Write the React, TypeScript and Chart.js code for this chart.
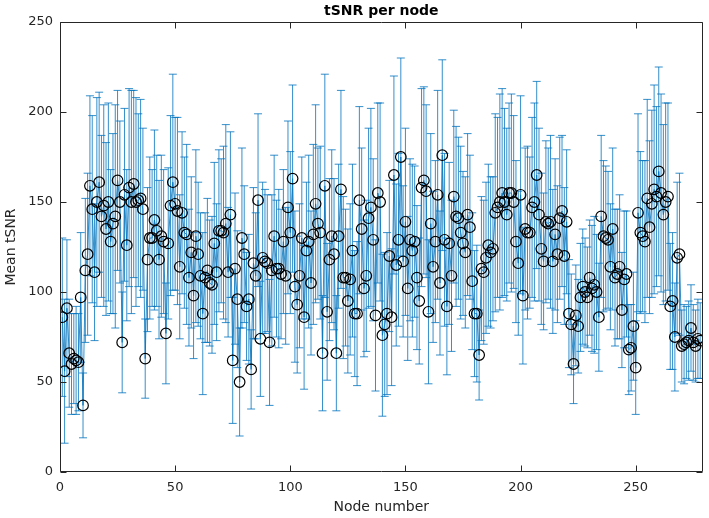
import React, { useEffect, useRef } from "react";
import { Chart, registerables } from "chart.js";

Chart.register(...registerables);

// Mean tSNR per node (node 1..278)
const meanTSNR: number[] = [
  86, 56, 91, 66, 60, 63, 62, 61, 97, 37, 112, 121, 159, 146, 111, 150, 161, 142, 148, 135,
  150, 128, 138, 142, 162, 150, 72, 154, 126, 158, 150, 160, 150, 151, 152, 146, 63, 118, 130, 130, 140, 134, 118,
  131, 128, 77, 127, 148, 161, 149, 145, 114, 144, 133, 132, 108, 122, 98, 131, 121, 109, 88, 108, 112, 105, 104, 127,
  111, 134, 134, 133, 138, 111, 143, 62, 113, 96, 50, 130, 121, 92, 96, 57, 116, 109, 151, 74, 119, 117, 116,
  72, 112, 131, 113, 113, 110, 128, 109, 147, 133, 163, 103, 93, 109, 130, 86, 123, 128, 105, 132, 149, 138, 133, 66,
  159, 89, 118, 131, 121, 66, 131, 157, 108, 108, 95, 107, 123, 88, 88, 151, 135, 102, 109, 141, 147, 129, 87,
  155, 150, 76, 82, 88, 120, 86, 165, 115, 129, 175, 117, 139, 102, 129, 123, 128, 108, 95, 158, 162, 156, 89,
  138, 114, 128, 154, 105, 176, 129, 92, 127, 109, 153, 142, 141, 133, 127, 122, 143, 136, 106, 88, 88, 65, 113,
  111, 119, 126, 122, 124, 144, 147, 150, 155, 150, 143, 155, 155, 150, 128, 116, 154, 98, 135, 133, 133, 147, 150, 165,
  143, 124, 117, 139, 138, 139, 117, 132, 121, 141, 145, 120, 139, 88, 82, 60, 87, 81, 97, 103, 100, 97, 108,
  102, 104, 100, 86, 142, 131, 130, 129, 114, 135, 108, 110, 114, 90, 107, 110, 68, 69, 81, 58, 144, 133, 131,
  128, 152, 136, 149, 157, 153, 167, 155, 143, 150, 153, 92, 95, 75, 119, 121, 70, 71, 72, 73, 80, 72, 70, 74, 73,
];

// Half-length of each error bar
const errTSNR: number[] = [
  44, 40, 38, 30, 28, 25, 30, 27, 36, 18, 40, 45, 50, 52, 38, 58, 50, 45, 56, 48,
  55, 40, 50, 62, 50, 45, 28, 48, 42, 55, 62, 52, 58, 48, 55, 45, 22, 40, 45, 38, 50, 42, 44,
  45, 40, 28, 42, 50, 60, 48, 52, 40, 45, 42, 50, 38, 42, 35, 48, 40, 35, 45, 36, 40, 35, 38, 45,
  38, 45, 40, 48, 55, 36, 46, 35, 42, 38, 30, 50, 38, 30, 36, 22, 42, 35, 48, 32, 42, 40, 38,
  35, 42, 45, 38, 44, 36, 40, 38, 48, 45, 52, 42, 38, 40, 45, 40, 38, 48, 40, 50, 55, 42, 48, 32,
  62, 38, 45, 48, 42, 32, 40, 55, 45, 38, 40, 42, 48, 35, 40, 52, 45, 38, 42, 50, 55, 45, 42,
  50, 55, 45, 40, 45, 42, 38, 55, 45, 48, 55, 42, 52, 40, 45, 48, 42, 40, 35, 55, 52, 48, 40,
  50, 42, 45, 58, 40, 53, 48, 38, 45, 42, 48, 50, 45, 48, 40, 42, 45, 40, 38, 35, 38, 25, 40,
  40, 42, 45, 42, 40, 55, 50, 60, 58, 52, 48, 50, 55, 48, 45, 40, 55, 38, 45, 48, 42, 50, 55, 52,
  48, 42, 38, 45, 42, 48, 40, 42, 38, 45, 42, 38, 40, 30, 28, 22, 28, 26, 30, 32, 30, 28, 32,
  35, 38, 32, 30, 45, 42, 40, 38, 35, 45, 38, 36, 40, 32, 38, 35, 25, 24, 30, 26, 55, 45, 42,
  45, 55, 48, 52, 58, 50, 58, 55, 50, 55, 52, 35, 38, 30, 42, 45, 20, 22, 20, 22, 24, 21, 20, 22, 21,
];

const nodeNumbers: number[] = meanTSNR.map((_, i) => i + 1);
const xTicks: number[] = [0, 50, 100, 150, 200, 250];
const yTicks: number[] = [0, 50, 100, 150, 200, 250];
const xMin = 0;
const xMax = 279;
const yMin = 0;
const yMax = 250;

const BLUE = "#0072BD";
const AXIS = "#262626";
const FONT = "'DejaVu Sans', sans-serif";

const errorBarPlugin = {
  id: "errorBars",
  beforeDatasetsDraw(chart: any) {
    const { ctx, chartArea } = chart;
    const x = chart.scales.x;
    const y = chart.scales.y;
    const cap = 4;
    ctx.save();
    ctx.beginPath();
    ctx.rect(chartArea.left, chartArea.top, chartArea.right - chartArea.left, chartArea.bottom - chartArea.top);
    ctx.clip();
    ctx.strokeStyle = BLUE;
    ctx.lineWidth = 0.8;
    ctx.beginPath();
    nodeNumbers.forEach((n, i) => {
      const e = errTSNR[i] ?? 0;
      const px = x.getPixelForValue(n);
      const lo = y.getPixelForValue(meanTSNR[i] - e);
      const hi = y.getPixelForValue(meanTSNR[i] + e);
      ctx.moveTo(px, lo);
      ctx.lineTo(px, hi);
      ctx.moveTo(px - cap, lo);
      ctx.lineTo(px + cap, lo);
      ctx.moveTo(px - cap, hi);
      ctx.lineTo(px + cap, hi);
    });
    ctx.stroke();
    ctx.restore();
  },
  afterDraw(chart: any) {
    const { ctx, chartArea } = chart;
    const x = chart.scales.x;
    const y = chart.scales.y;
    const L = Math.round(chartArea.left) + 0.5;
    const R = Math.round(chartArea.right) - 0.5;
    const T = Math.round(chartArea.top) + 0.5;
    const B = Math.round(chartArea.bottom) - 0.5;
    const tl = 6;
    ctx.save();
    ctx.strokeStyle = AXIS;
    ctx.lineWidth = 1;
    ctx.beginPath();
    ctx.rect(L, T, R - L, B - T);
    xTicks.forEach((v) => {
      const px = Math.round(x.getPixelForValue(v)) + 0.5;
      ctx.moveTo(px, B);
      ctx.lineTo(px, B - tl);
      ctx.moveTo(px, T);
      ctx.lineTo(px, T + tl);
    });
    yTicks.forEach((v) => {
      const py = Math.round(y.getPixelForValue(v)) + 0.5;
      ctx.moveTo(L, py);
      ctx.lineTo(L + tl, py);
      ctx.moveTo(R, py);
      ctx.lineTo(R - tl, py);
    });
    ctx.stroke();
    ctx.restore();
  },
};

export default function App() {
  const canvasRef = useRef<HTMLCanvasElement | null>(null);

  useEffect(() => {
    const canvas = canvasRef.current;
    if (!canvas) return;
    const points = nodeNumbers.map((n, i) => ({ x: n, y: meanTSNR[i] }));
    const chart = new Chart(canvas, {
      type: "line",
      data: {
        datasets: [
          {
            label: "nodes",
            data: points,
            showLine: false,
            pointRadius: 5.3,
            pointHoverRadius: 5.3,
            pointBorderWidth: 1.2,
            pointBorderColor: "#000000",
            pointBackgroundColor: "rgba(0,0,0,0)",
            borderColor: "#000000",
            backgroundColor: "rgba(0,0,0,0)",
          } as any,
          {
            label: "mean",
            data: points,
            borderColor: BLUE,
            borderWidth: 0.8,
            pointRadius: 0,
            fill: false,
            tension: 0,
          } as any,
        ],
      },
      options: {
        animation: false,
        responsive: false,
        devicePixelRatio: 1,
        events: [],
        layout: { padding: { top: 0, right: 3, bottom: 0, left: 0 } },
        plugins: {
          legend: { display: false },
          tooltip: { enabled: false },
          title: {
            display: true,
            text: "tSNR per node",
            fullSize: false,
            color: "#000000",
            font: { family: FONT, size: 14, weight: "bold" },
            padding: { top: 3, bottom: 2.2 },
          },
        },
        scales: {
          x: {
            type: "linear",
            min: xMin,
            max: xMax,
            afterBuildTicks: (s: any) => {
              s.ticks = xTicks.map((v) => ({ value: v }));
            },
            afterFit: (s: any) => {
              s.height = 46;
            },
            grid: { display: false, drawTicks: false },
            border: { display: false },
            ticks: {
              padding: 8,
              color: AXIS,
              autoSkip: false,
              maxRotation: 0,
              font: { family: FONT, size: 13 },
            },
            title: {
              display: true,
              text: "Node number",
              color: AXIS,
              font: { family: FONT, size: 14 },
              padding: { top: 2, bottom: 2 },
            },
          },
          y: {
            type: "linear",
            min: yMin,
            max: yMax,
            afterBuildTicks: (s: any) => {
              s.ticks = yTicks.map((v) => ({ value: v }));
            },
            afterFit: (s: any) => {
              s.width = 60;
            },
            grid: { display: false, drawTicks: false },
            border: { display: false },
            ticks: {
              padding: 7,
              color: AXIS,
              autoSkip: false,
              font: { family: FONT, size: 13 },
            },
            title: {
              display: true,
              text: "Mean tSNR",
              color: AXIS,
              font: { family: FONT, size: 14 },
              padding: { top: 3, bottom: 2 },
            },
          },
        },
      },
      plugins: [errorBarPlugin],
    });
    return () => chart.destroy();
  }, []);

  return (
    <div style={{ position: "absolute", left: 0, top: 0, width: 709, height: 518, background: "#ffffff" }}>
      <canvas ref={canvasRef} width={709} height={518} style={{ width: 709, height: 518, display: "block" }} />
    </div>
  );
}
